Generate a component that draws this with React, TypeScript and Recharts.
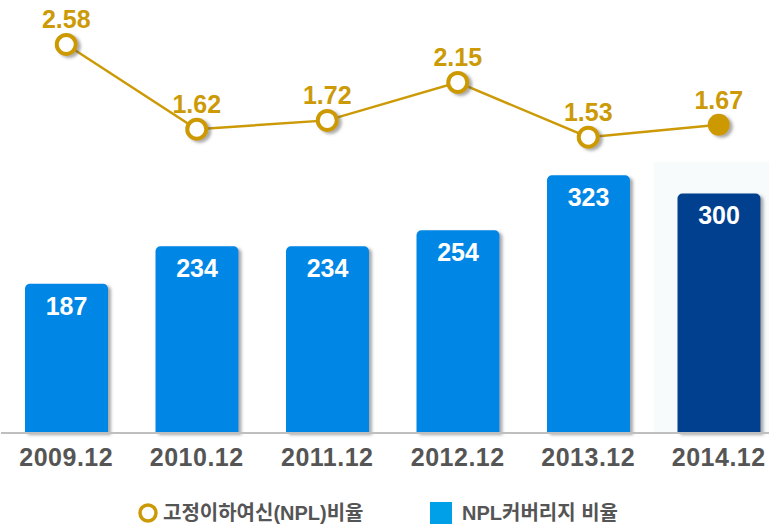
import { ComposedChart, Bar, Line, XAxis, YAxis, Cell, LabelList, ReferenceArea } from "recharts";

const periods = ["2009.12", "2010.12", "2011.12", "2012.12", "2013.12", "2014.12"];
const nplRatio = [2.58, 1.62, 1.72, 2.15, 1.53, 1.67];
const coverage = [187, 234, 234, 254, 323, 300];

const GOLD = "#CC9A06";
const BLUE = "#0087E6";
const NAVY = "#00418F";
const FONT = "'Liberation Sans', Arial, 'Noto Sans CJK KR', sans-serif";

const data = periods.map((p, i) => ({ period: p, npl: nplRatio[i], cov: coverage[i] }));
const last = periods.length - 1;

const NplDot = (props: any) => {
  const { cx, cy, index } = props;
  if (cx == null || cy == null) return null;
  if (index === last) {
    return <circle key={index} cx={cx} cy={cy} r={11} fill={GOLD} filter="url(#shadow)" />;
  }
  return (
    <circle key={index} cx={cx} cy={cy} r={9.5} fill="#fff" stroke={GOLD} strokeWidth={4} filter="url(#shadow)" />
  );
};

const App = () => {
  return (
    <div style={{ position: "absolute", left: 0, top: 0, width: 769, height: 526, overflow: "hidden", background: "#fff", fontFamily: FONT }}>
      <ComposedChart width={790} height={526} data={data} margin={{ top: 10, right: 6, left: 1, bottom: 53 }}>
        <defs>
          <filter id="shadow" x="-20%" y="-20%" width="160%" height="160%">
            <feDropShadow dx={3} dy={2} stdDeviation={1.5} floodColor="#555" floodOpacity={0.5} />
          </filter>
        </defs>
        <XAxis
          dataKey="period"
          height={40}
          tickSize={0}
          tickMargin={15}
          tickLine={false}
          axisLine={{ stroke: "#BFBFBF", strokeWidth: 2 }}
          tick={{ fill: "#555", fontSize: 25, fontWeight: 700, fontFamily: FONT, letterSpacing: 0.5 }}
        />
        <YAxis yAxisId="bar" hide domain={[0, 530]} />
        <YAxis yAxisId="line" hide domain={[-1.82, 2.97]} />
        <ReferenceArea yAxisId="bar" x1="2014.12" x2="2014.12" y1={0} y2={340} fill="#F8FBFC" fillOpacity={1} stroke="none" />
        <Bar yAxisId="bar" dataKey="cov" barSize={83} radius={[5, 5, 0, 0]} isAnimationActive={false} filter="url(#shadow)">
          {data.map((d, i) => (
            <Cell key={d.period} fill={i === last ? NAVY : BLUE} />
          ))}
          <LabelList dataKey="cov" position="insideTop" offset={13} fill="#fff" fontSize={25} fontWeight={700} fontFamily={FONT} />
        </Bar>
        <Line
          yAxisId="line"
          dataKey="npl"
          stroke={GOLD}
          strokeWidth={2.5}
          dot={NplDot}
          activeDot={false}
          isAnimationActive={false}
        >
          <LabelList dataKey="npl" position="top" offset={16} fill={GOLD} fontSize={25} fontWeight={700} fontFamily={FONT} formatter={(v: any) => Number(v).toFixed(2)} />
        </Line>
      </ComposedChart>
      <div style={{ position: "absolute", left: 137, top: 501, display: "flex", alignItems: "center", color: "#555", fontSize: 20, fontWeight: 700, lineHeight: "24px" }}>
        <svg width={22} height={22} style={{ marginRight: 4 }}>
          <circle cx={11} cy={11} r={8} fill="#fff" stroke={GOLD} strokeWidth={3.5} />
        </svg>
        <span>고정이하여신(NPL)비율</span>
      </div>
      <div style={{ position: "absolute", left: 430, top: 501, display: "flex", alignItems: "center", color: "#555", fontSize: 20, fontWeight: 700, lineHeight: "24px" }}>
        <div style={{ width: 22, height: 22, background: "#00A0E9", marginRight: 10 }} />
        <span>NPL커버리지 비율</span>
      </div>
    </div>
  );
};

export default App;
